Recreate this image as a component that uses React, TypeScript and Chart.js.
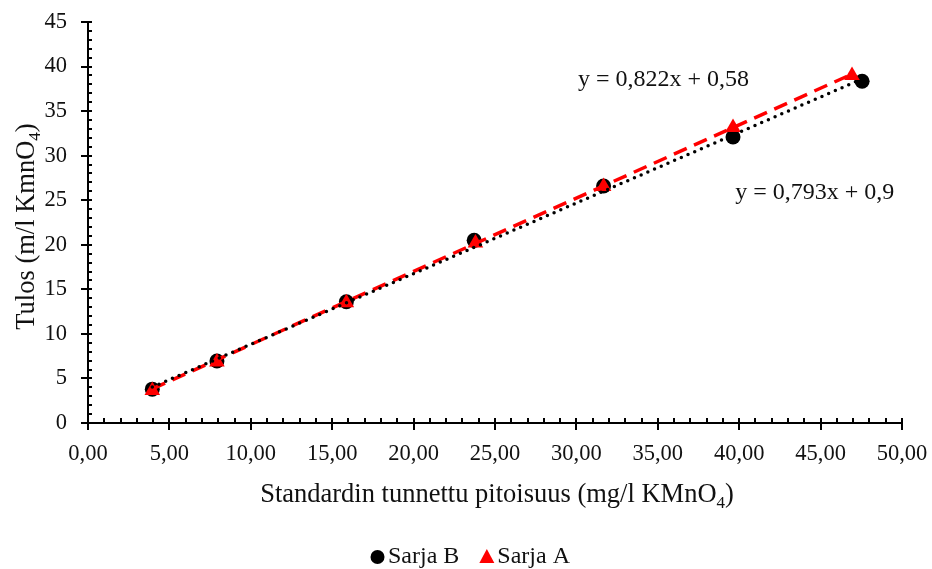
import { useEffect, useRef } from "react";
import { Chart, registerables } from "chart.js";

Chart.register(...registerables);

// Measured results for the two sample series (x = known standard concentration)
const SARJA_B_X = [3.95, 7.92, 15.87, 23.72, 31.67, 39.62, 47.55];
const SARJA_B_Y = [3.8, 6.95, 13.6, 20.5, 26.6, 32.1, 38.35];
const SARJA_A_X = [3.95, 7.92, 15.87, 23.8, 31.67, 39.62, 46.93];
const SARJA_A_Y = [3.65, 6.85, 13.5, 20.2, 26.55, 33.15, 39.0];

// Linear trend lines (slope, intercept)
const TREND_A_SLOPE = 0.822;
const TREND_A_INTERCEPT = 0.58;
const TREND_B_SLOPE = 0.793;
const TREND_B_INTERCEPT = 0.9;

// Axis tick values
const X_TICKS = [0, 5, 10, 15, 20, 25, 30, 35, 40, 45, 50];
const Y_TICKS = [0, 5, 10, 15, 20, 25, 30, 35, 40, 45];

const FONT = "'Liberation Serif', 'Times New Roman', serif";
const TICK_SIZE = 22.5;
const TITLE_SIZE = 26.5;
const LABEL_SIZE = 24;
const TEXT_COLOR = "#111111";

const fmtNum = (v: number, digits?: number) => {
  const s = digits === undefined ? String(v) : v.toFixed(digits);
  return s.replace(".", ",");
};

const equation = (m: number, b: number) => `y = ${fmtNum(m)}x + ${fmtNum(b)}`;

const toPoints = (xs: number[], ys: number[]) => xs.map((x, i) => ({ x, y: ys[i] }));

const trendPoints = (xs: number[], m: number, b: number) => {
  const lo = Math.min(...xs);
  const hi = Math.max(...xs);
  return [
    { x: lo, y: m * lo + b },
    { x: hi, y: m * hi + b },
  ];
};

type Part = { text: string; sub?: boolean };

function drawRich(ctx: CanvasRenderingContext2D, parts: Part[], cx: number, cy: number, size: number) {
  const subSize = Math.round(size * 0.66);
  let total = 0;
  const widths = parts.map((p) => {
    ctx.font = `${p.sub ? subSize : size}px ${FONT}`;
    const w = ctx.measureText(p.text).width;
    total += w;
    return w;
  });
  let x = cx - total / 2;
  ctx.textBaseline = "alphabetic";
  ctx.textAlign = "left";
  parts.forEach((p, i) => {
    ctx.font = `${p.sub ? subSize : size}px ${FONT}`;
    ctx.fillText(p.text, x, cy + (p.sub ? 6 : 0));
    x += widths[i];
  });
}

// Minor/major tick marks in the spreadsheet style (majors cross the axis)
const tickMarks = {
  id: "tickMarks",
  afterDraw(chart: any) {
    const { ctx, chartArea, scales } = chart;
    const xs = scales.x;
    const ys = scales.y;
    ctx.save();
    ctx.strokeStyle = "#000";
    ctx.lineWidth = 2;
    ctx.beginPath();
    for (let v = xs.min; v <= xs.max + 1e-9; v += 1) {
      const px = Math.round(xs.getPixelForValue(v));
      const major = Math.abs(v % 5) < 1e-9;
      ctx.moveTo(px, chartArea.bottom - 5);
      ctx.lineTo(px, chartArea.bottom + (major ? 7 : 0));
    }
    for (let v = ys.min; v <= ys.max + 1e-9; v += 1) {
      const py = Math.round(ys.getPixelForValue(v));
      const major = Math.abs(v % 5) < 1e-9;
      ctx.moveTo(chartArea.left - (major ? 7 : 0), py);
      ctx.lineTo(chartArea.left + 4, py);
    }
    ctx.stroke();
    ctx.restore();
  },
};

// Axis titles with subscripts, equation labels and the legend
const annotations = {
  id: "annotations",
  afterDraw(chart: any) {
    const { ctx, chartArea, scales, width } = chart;
    const xs = scales.x;
    const ys = scales.y;
    ctx.save();
    ctx.fillStyle = TEXT_COLOR;

    // x-axis title
    drawRich(
      ctx,
      [{ text: "Standardin tunnettu pitoisuus (mg/l KMnO" }, { text: "4", sub: true }, { text: ")" }],
      (chartArea.left + chartArea.right) / 2 + 2,
      502,
      TITLE_SIZE
    );

    // y-axis title
    ctx.save();
    ctx.translate(34, (chartArea.top + chartArea.bottom) / 2 + 4);
    ctx.rotate(-Math.PI / 2);
    drawRich(ctx, [{ text: "Tulos (m/l KmnO" }, { text: "4", sub: true }, { text: ")" }], 0, 0, TITLE_SIZE);
    ctx.restore();

    // trend line equations
    ctx.font = `${LABEL_SIZE}px ${FONT}`;
    ctx.textAlign = "left";
    ctx.textBaseline = "middle";
    ctx.fillText(equation(TREND_A_SLOPE, TREND_A_INTERCEPT), xs.getPixelForValue(30.1), ys.getPixelForValue(38.5));
    ctx.fillText(equation(TREND_B_SLOPE, TREND_B_INTERCEPT), xs.getPixelForValue(39.75), ys.getPixelForValue(25.8));

    // legend (series only, trend lines hidden)
    const items = chart.data.datasets.filter((d: any) => !d.isTrend);
    const markerW = 15;
    const gapMarker = 3;
    const gapItem = 20;
    ctx.font = `${LABEL_SIZE}px ${FONT}`;
    const widths = items.map((d: any) => markerW + gapMarker + ctx.measureText(d.label).width);
    const total = widths.reduce((a: number, b: number) => a + b, 0) + gapItem * (items.length - 1);
    let x = width / 2 - total / 2 + 4;
    const cy = 557;
    items.forEach((d: any, i: number) => {
      ctx.fillStyle = d.backgroundColor;
      ctx.beginPath();
      if (d.pointStyle === "triangle") {
        ctx.moveTo(x + markerW / 2, cy - 8);
        ctx.lineTo(x + markerW, cy + 6);
        ctx.lineTo(x, cy + 6);
        ctx.closePath();
      } else {
        ctx.arc(x + markerW / 2, cy, 7, 0, Math.PI * 2);
      }
      ctx.fill();
      ctx.fillStyle = TEXT_COLOR;
      ctx.textBaseline = "middle";
      ctx.fillText(d.label, x + markerW + gapMarker, cy);
      x += widths[i] + gapItem;
    });
    ctx.restore();
  },
};

export default function App() {
  const canvasRef = useRef<HTMLCanvasElement | null>(null);

  useEffect(() => {
    if (!canvasRef.current) return;
    const chart = new Chart(canvasRef.current, {
      type: "scatter",
      data: {
        datasets: [
          {
            label: "Sarja B",
            data: toPoints(SARJA_B_X, SARJA_B_Y),
            backgroundColor: "#000000",
            borderColor: "#000000",
            pointStyle: "circle",
            pointRadius: 7.5,
            borderWidth: 0,
            order: 3,
          },
          {
            label: "Sarja A",
            data: toPoints(SARJA_A_X, SARJA_A_Y),
            backgroundColor: "#ff0000",
            borderColor: "#ff0000",
            pointStyle: "triangle",
            pointRadius: 9,
            borderWidth: 0,
            order: 2,
          },
          {
            label: "Trend A",
            isTrend: true,
            data: trendPoints(SARJA_A_X, TREND_A_SLOPE, TREND_A_INTERCEPT),
            showLine: true,
            borderColor: "#ff0000",
            borderWidth: 3.5,
            borderDash: [14, 8],
            pointRadius: 0,
            order: 1,
          },
          {
            label: "Trend B",
            isTrend: true,
            data: trendPoints(SARJA_B_X, TREND_B_SLOPE, TREND_B_INTERCEPT),
            showLine: true,
            borderColor: "#000000",
            borderWidth: 3.5,
            borderDash: [0, 7.3],
            borderCapStyle: "round",
            pointRadius: 0,
            order: 0,
          },
        ] as any,
      },
      options: {
        responsive: false,
        animation: false,
        layout: { padding: { top: 22, right: 30, bottom: 0, left: 0 } },
        plugins: {
          legend: { display: false },
          tooltip: { enabled: false },
        },
        scales: {
          x: {
            type: "linear",
            min: 0,
            max: 50,
            afterBuildTicks: (scale: any) => {
              scale.ticks = X_TICKS.map((value) => ({ value }));
            },
            afterFit: (scale: any) => {
              scale.height = 146;
              scale.paddingLeft = 0;
              scale.paddingRight = 0;
            },
            grid: { display: false, drawTicks: false },
            border: { display: true, color: "#000", width: 2 },
            ticks: {
              padding: 18,
              color: TEXT_COLOR,
              font: { family: FONT, size: TICK_SIZE },
              maxRotation: 0,
              autoSkip: false,
              callback: (v: any) => fmtNum(Number(v), 2),
            },
          },
          y: {
            type: "linear",
            min: 0,
            max: 45,
            afterBuildTicks: (scale: any) => {
              scale.ticks = Y_TICKS.map((value) => ({ value }));
            },
            afterFit: (scale: any) => {
              scale.width = 88;
              scale.paddingTop = 0;
              scale.paddingBottom = 0;
            },
            grid: { display: false, drawTicks: false },
            border: { display: true, color: "#000", width: 2 },
            ticks: {
              padding: 21,
              color: TEXT_COLOR,
              font: { family: FONT, size: TICK_SIZE },
              autoSkip: false,
              callback: (v: any) => String(v),
            },
          },
        },
      },
      plugins: [tickMarks, annotations],
    } as any);
    return () => chart.destroy();
  }, []);

  return (
    <div style={{ position: "absolute", left: 0, top: 0, width: 932, height: 569, background: "#fff" }}>
      <canvas ref={canvasRef} width={932} height={569} />
    </div>
  );
}
